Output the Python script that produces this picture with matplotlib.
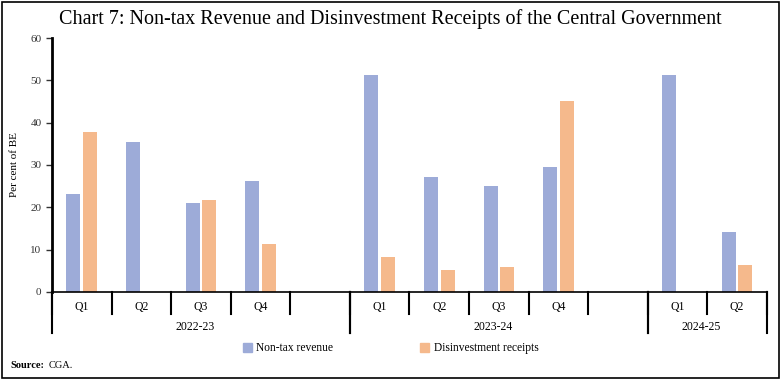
import matplotlib
matplotlib.use("Agg")
import matplotlib.pyplot as plt
import matplotlib.patches as mpatches
import numpy as np

# slots: 2022-23 Q1-Q4, gap, 2023-24 Q1-Q4, gap, 2024-25 Q1-Q2
quarters = ["Q1", "Q2", "Q3", "Q4", "", "Q1", "Q2", "Q3", "Q4", "", "Q1", "Q2"]
years = ["2022-23", "2023-24", "2024-25"]
year_spans = [(0, 4), (5, 9), (10, 11)]
non_tax = [23.1, 35.4, 21.0, 26.3, 0, 51.3, 27.1, 25.0, 29.6, 0, 51.3, 14.1]
disinvest = [37.8, 0, 21.7, 11.3, 0, 8.2, 5.2, 6.0, 45.2, 0, 0, 6.3]

blue = "#9dabd8"
orange = "#f5b98c"
plt.rcParams['font.family'] = ['Liberation Serif', 'DejaVu Serif']

fig = plt.figure(figsize=(7.81, 3.8), dpi=100)
ax = fig.add_axes([0.0666, 0.2316, 0.9154, 0.6684])

x = np.arange(len(quarters))
w = 0.235
ax.bar(x - 0.14, non_tax, w, color=blue, label="Non-tax revenue")
ax.bar(x + 0.14, disinvest, w, color=orange, label="Disinvestment receipts")

ax.set_xlim(-0.5, len(quarters) - 0.5)
ax.set_ylim(0, 60)
ax.set_yticks(range(0, 61, 10))
ax.tick_params(axis='y', labelsize=8, length=4, width=1, colors='#333333')
ax.tick_params(axis='x', length=0, labelbottom=False)
ax.set_ylabel("Per cent of BE", fontsize=8, labelpad=8)
for s in ["top", "right"]:
    ax.spines[s].set_visible(False)
ax.spines["left"].set_linewidth(2)
ax.spines["bottom"].set_linewidth(1.2)

tr = ax.get_xaxis_transform()
# quarter labels and separators
for i, q in enumerate(quarters):
    if q:
        ax.text(i, -0.06, q, transform=tr, ha='center', va='center', fontsize=8.5)
for b in np.arange(-0.5, len(quarters), 1.0):
    ax.plot([b, b], [0, -0.085], transform=tr, color='black', lw=1.5, clip_on=False)
# year labels and group separators
for yr, (a, e) in zip(years, year_spans):
    ax.text((a + e) / 2 - 0.1, -0.138, yr, transform=tr, ha='center', va='center', fontsize=8.5)
    for b in (a - 0.5, e + 0.5):
        ax.plot([b, b], [0, -0.162], transform=tr, color='black', lw=1.5, clip_on=False)

handles = [mpatches.Patch(color=blue, label="Non-tax revenue"),
           mpatches.Patch(color=orange, label="Disinvestment receipts")]
fig.legend(handles=handles, loc='center', bbox_to_anchor=(0.5, 0.083), ncol=2,
           frameon=False, fontsize=8.3, columnspacing=7.5, handlelength=0.8,
           handleheight=0.8, handletextpad=0.4)

fig.suptitle("Chart 7: Non-tax Revenue and Disinvestment Receipts of the Central Government",
             y=0.975, fontsize=14.5)
fig.text(0.013, 0.037, "Source:", fontsize=7.5, fontweight='bold', va='center')
fig.text(0.062, 0.037, "CGA.", fontsize=7.5, va='center')

fig.add_artist(mpatches.Rectangle((0.002, 0.005), 0.995, 0.99, transform=fig.transFigure,
                                  fill=False, edgecolor='black', lw=1.2))

fig.savefig("out.png", dpi=100)
